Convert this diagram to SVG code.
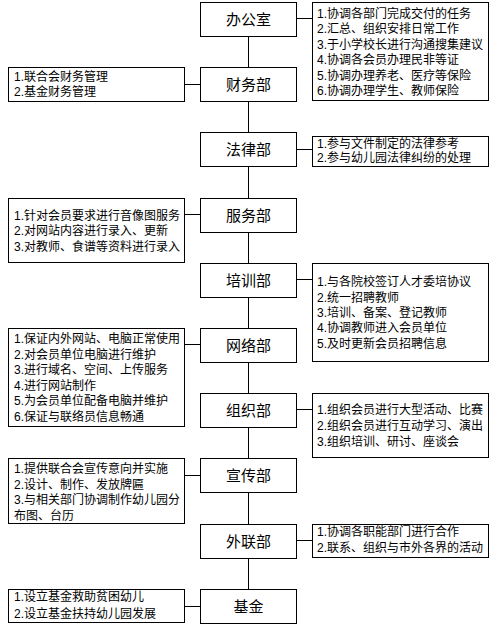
<svg xmlns="http://www.w3.org/2000/svg" width="497" height="625" viewBox="0 0 497 625">
<style>
.box{fill:#fff;stroke:#000;stroke-width:1}
.ln{stroke:#000;stroke-width:1;fill:none}
text{font-family:"Liberation Sans","Noto Sans CJK SC",sans-serif;fill:#000}
.lbl{font-size:15px;text-anchor:middle}
.d{font-size:12px}
</style>
<rect x="0" y="0" width="497" height="625" fill="#fff"/>
<g id="connectors">
<path class="ln" d="M248.5 36.5V67.5M248.5 101.5V132.5M248.5 166.5V198.5M248.5 232.5V263.5M248.5 297.5V328.5M248.5 362.5V393.5M248.5 427.5V458.5M248.5 492.5V524.5M248.5 558.5V589.5"/>
<path class="ln" d="M296.5 18.5H312.5M296.5 149.5H312.5M296.5 279.5H312.5M296.5 409.5H312.5M296.5 540.5H312.5"/>
<path class="ln" d="M184.5 84.5H200.5M184.5 214.5H200.5M184.5 344.5H200.5M184.5 475.5H200.5M184.5 606.5H200.5"/>
</g>
<g id="office">
<rect class="box" x="200.5" y="2.5" width="96" height="34"/>
<text class="lbl" x="248.5" y="25">办公室</text>
</g>
<g id="office-desc">
<rect class="box" x="312.5" y="2.5" width="176" height="98"/>
<text class="d" x="317" y="17.5">1.协调各部门完成交付的任务</text>
<text class="d" x="317" y="33">2.汇总、组织安排日常工作</text>
<text class="d" x="317" y="48.5">3.于小学校长进行沟通搜集建议</text>
<text class="d" x="317" y="64">4.协调各会员办理民非等证</text>
<text class="d" x="317" y="79.5">5.协调办理养老、医疗等保险</text>
<text class="d" x="317" y="95">6.协调办理学生、教师保险</text>
</g>
<g id="finance">
<rect class="box" x="200.5" y="67.5" width="96" height="34"/>
<text class="lbl" x="248.5" y="90">财务部</text>
</g>
<g id="finance-desc">
<rect class="box" x="8.5" y="67.5" width="176" height="34"/>
<text class="d" x="14" y="81">1.联合会财务管理</text>
<text class="d" x="14" y="96">2.基金财务管理</text>
</g>
<g id="law">
<rect class="box" x="200.5" y="132.5" width="96" height="34"/>
<text class="lbl" x="248.5" y="155">法律部</text>
</g>
<g id="law-desc">
<rect class="box" x="312.5" y="136.5" width="176" height="30"/>
<text class="d" x="317" y="148">1.参与文件制定的法律参考</text>
<text class="d" x="317" y="161.5">2.参与幼儿园法律纠纷的处理</text>
</g>
<g id="service">
<rect class="box" x="200.5" y="198.5" width="96" height="34"/>
<text class="lbl" x="248.5" y="221">服务部</text>
</g>
<g id="service-desc">
<rect class="box" x="8.5" y="198.5" width="176" height="64"/>
<text class="d" x="14" y="219.5">1.针对会员要求进行音像图服务</text>
<text class="d" x="14" y="235">2.对网站内容进行录入、更新</text>
<text class="d" x="14" y="250.5">3.对教师、食谱等资料进行录入</text>
</g>
<g id="training">
<rect class="box" x="200.5" y="263.5" width="96" height="34"/>
<text class="lbl" x="248.5" y="286">培训部</text>
</g>
<g id="training-desc">
<rect class="box" x="312.5" y="263.5" width="176" height="98"/>
<text class="d" x="317" y="286">1.与各院校签订人才委培协议</text>
<text class="d" x="317" y="301.5">2.统一招聘教师</text>
<text class="d" x="317" y="317">3.培训、备案、登记教师</text>
<text class="d" x="317" y="332">4.协调教师进入会员单位</text>
<text class="d" x="317" y="347.5">5.及时更新会员招聘信息</text>
</g>
<g id="network">
<rect class="box" x="200.5" y="328.5" width="96" height="34"/>
<text class="lbl" x="248.5" y="351">网络部</text>
</g>
<g id="network-desc">
<rect class="box" x="8.5" y="328.5" width="176" height="98"/>
<text class="d" x="14" y="343">1.保证内外网站、电脑正常使用</text>
<text class="d" x="14" y="358.5">2.对会员单位电脑进行维护</text>
<text class="d" x="14" y="374">3.进行域名、空间、上传服务</text>
<text class="d" x="14" y="389.5">4.进行网站制作</text>
<text class="d" x="14" y="405">5.为会员单位配备电脑并维护</text>
<text class="d" x="14" y="420.5">6.保证与联络员信息畅通</text>
</g>
<g id="org">
<rect class="box" x="200.5" y="393.5" width="96" height="34"/>
<text class="lbl" x="248.5" y="416">组织部</text>
</g>
<g id="org-desc">
<rect class="box" x="312.5" y="393.5" width="176" height="64"/>
<text class="d" x="317" y="414">1.组织会员进行大型活动、比赛</text>
<text class="d" x="317" y="430">2.组织会员进行互动学习、演出</text>
<text class="d" x="317" y="446">3.组织培训、研讨、座谈会</text>
</g>
<g id="propaganda">
<rect class="box" x="200.5" y="458.5" width="96" height="34"/>
<text class="lbl" x="248.5" y="481">宣传部</text>
</g>
<g id="propaganda-desc">
<rect class="box" x="8.5" y="458.5" width="176" height="65"/>
<text class="d" x="14" y="473">1.提供联合会宣传意向并实施</text>
<text class="d" x="14" y="488.5">2.设计、制作、发放牌匾</text>
<text class="d" x="14" y="504">3.与相关部门协调制作幼儿园分</text>
<text class="d" x="14" y="519.5">布图、台历</text>
</g>
<g id="external">
<rect class="box" x="200.5" y="524.5" width="96" height="34"/>
<text class="lbl" x="248.5" y="547">外联部</text>
</g>
<g id="external-desc">
<rect class="box" x="312.5" y="524.5" width="176" height="33"/>
<text class="d" x="317" y="535.5">1.协调各职能部门进行合作</text>
<text class="d" x="317" y="552">2.联系、组织与市外各界的活动</text>
</g>
<g id="fund">
<rect class="box" x="200.5" y="589.5" width="96" height="34"/>
<text class="lbl" x="248.5" y="612">基金</text>
</g>
<g id="fund-desc">
<rect class="box" x="8.5" y="589.5" width="176" height="33"/>
<text class="d" x="14" y="601">1.设立基金救助贫困幼儿</text>
<text class="d" x="14" y="618">2.设立基金扶持幼儿园发展</text>
</g>
</svg>
